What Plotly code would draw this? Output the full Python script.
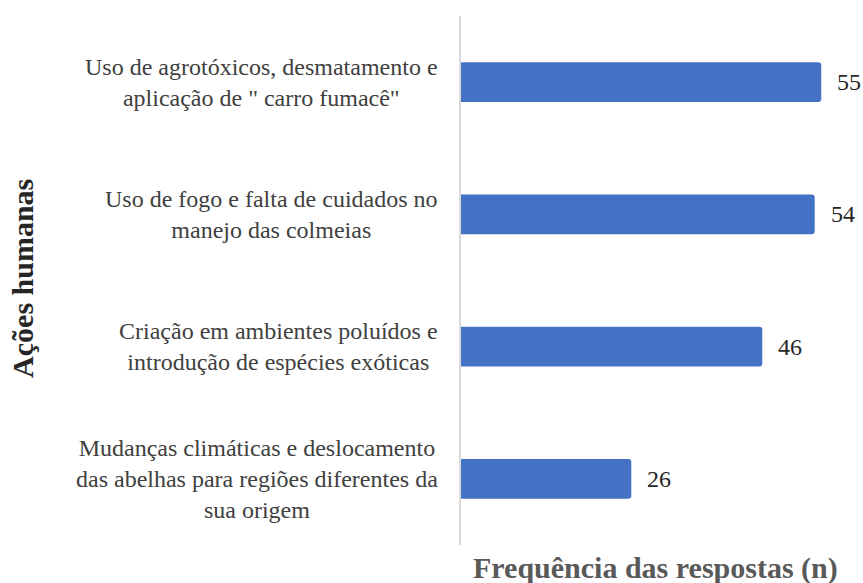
import plotly.graph_objects as go

categories = [
    "Uso de agrotóxicos, desmatamento e<br>aplicação de \" carro fumacê\"",
    "Uso de fogo e falta de cuidados no<br>manejo das colmeias",
    "Criação em ambientes poluídos e<br>introdução de espécies exóticas",
    "Mudanças climáticas e deslocamento<br>das abelhas para regiões diferentes da<br>sua origem",
]
values = [55, 54, 46, 26]
x_title = "Frequência das respostas (n)"
y_title = "Ações humanas"

FONT = "Liberation Serif"

fig = go.Figure()
fig.add_trace(go.Bar(
    x=values, y=list(range(len(categories))), orientation="h",
    marker=dict(color="#4472C4", line=dict(width=0), cornerradius=3),
    width=0.30, hoverinfo="skip",
))

annotations = []
for i, (c, v) in enumerate(zip(categories, values)):
    annotations.append(dict(
        x=0, y=i, xref="x", yref="y", text=c, showarrow=False,
        xanchor="right", yanchor="middle", align="center", xshift=-21,
        font=dict(family=FONT, size=24, color="#404040"),
    ))
    annotations.append(dict(
        x=v, y=i, xref="x", yref="y", text=str(v), showarrow=False,
        xanchor="left", yanchor="middle", xshift=14,
        font=dict(family=FONT, size=24, color="#262626"),
    ))
annotations.append(dict(
    x=-1.1145, y=0.503, xref="paper", yref="paper",
    text="<b>%s</b>" % y_title, showarrow=False, textangle=-90,
    xanchor="center", yanchor="middle",
    font=dict(family=FONT, size=30, color="#262626"),
))
annotations.append(dict(
    x=0.496, y=-0.0435, xref="paper", yref="paper",
    text="<b>%s</b>" % x_title, showarrow=False,
    xanchor="center", yanchor="middle",
    font=dict(family=FONT, size=30, color="#595959"),
))

fig.update_layout(
    width=863, height=583,
    margin=dict(l=461, r=9, t=16, b=38),
    paper_bgcolor="white", plot_bgcolor="white",
    showlegend=False,
    font=dict(family=FONT),
    xaxis=dict(range=[0, 60], showticklabels=False, showgrid=False,
               zeroline=False, showline=False, ticks=""),
    yaxis=dict(range=[3.5, -0.5], showticklabels=False, showgrid=False,
               zeroline=False, showline=True, linecolor="#D9D9D9",
               linewidth=2, ticks=""),
    annotations=annotations,
)
fig.write_html("out.html",
               config={"displayModeBar": False},
               post_script="document.body.style.margin='0';document.body.style.overflow='hidden';")
